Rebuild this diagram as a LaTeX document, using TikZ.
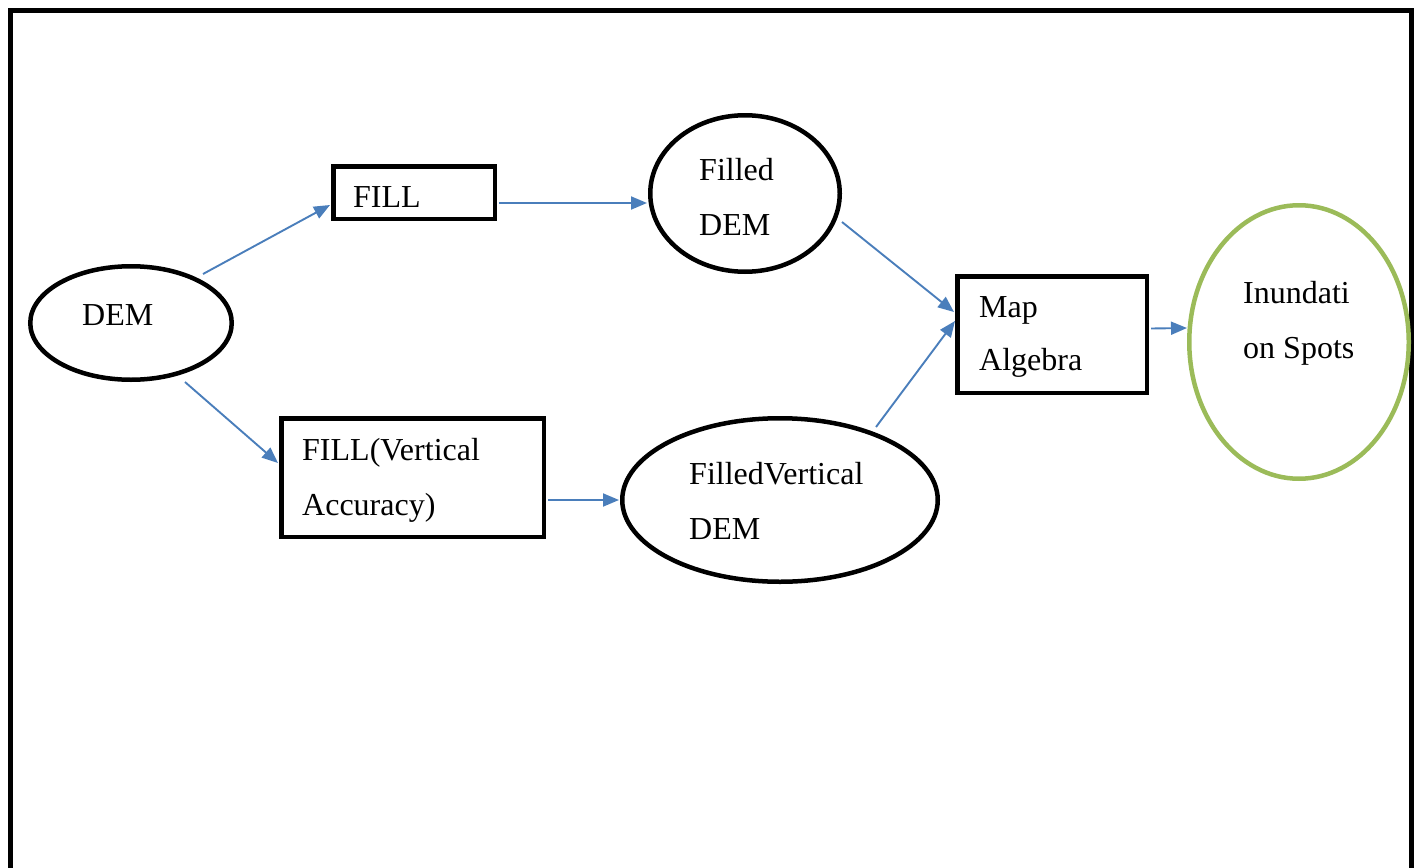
\documentclass[tikz,border=0pt]{standalone}
\usepackage{fontspec}
\setmainfont{Liberation Serif}
\usetikzlibrary{shapes.geometric,arrows.meta,calc}
\definecolor{arrblue}{HTML}{4A7EBB}
\definecolor{ovgreen}{HTML}{9BBB59}
\begin{document}
\begin{tikzpicture}[x=1pt,y=-1pt,
  ov/.style={ellipse,draw=black,line width=4.5pt,inner sep=0pt},
  bx/.style={rectangle,draw=black,line width=4.5pt,inner sep=0pt},
  lbl/.style={anchor=base west,inner sep=0pt,font=\fontsize{32}{38}\selectfont},
  arr/.style={draw=arrblue,line width=1.9pt,-{Triangle[length=16pt,width=13pt]}}]
\useasboundingbox (0,0) rectangle (1418,867);
\draw[line width=5pt] (10,880) -- (10,11) -- (1411,11) -- (1411,880);
% shapes
\node[ov,minimum width=201.5,minimum height=113.5] (dem) at (131,323) {};
\node[bx,minimum width=161.5,minimum height=52.5] (fill) at (414,192.5) {};
\node[ov,minimum width=189.5,minimum height=156.5] (fdem) at (745,193.5) {};
\node[bx,minimum width=262.5,minimum height=118.5] (fva) at (412.5,477.5) {};
\node[ov,minimum width=315.5,minimum height=163.5] (fvd) at (780,500) {};
\node[bx,minimum width=189.5,minimum height=116.5] (map) at (1052,334.5) {};
\node[ov,draw=ovgreen,minimum width=219.5,minimum height=273.5] (inund) at (1299,342) {};
% texts
\node[lbl] (tdem) at (82,325) {DEM};
\node[lbl] (tfill) at (353,207) {FILL};
\node[lbl] (tfdem1) at (699,180) {Filled};
\node[lbl] (tfdem2) at (699,235) {DEM};
\node[lbl] (tfva1) at (302,460) {FILL(Vertical};
\node[lbl] (tfva2) at (302,515) {Accuracy)};
\node[lbl] (tfvd1) at (689,484) {FilledVertical};
\node[lbl] (tfvd2) at (689,539) {DEM};
\node[lbl] (tmap1) at (979,317) {Map};
\node[lbl] (tmap2) at (979,370) {Algebra};
\node[lbl] (tin1) at (1243,303) {Inundati};
\node[lbl] (tin2) at (1243,358) {on Spots};
% connectors
\draw[arr] ($(dem.center)+(72,-49)$) -- ($(fill.west)+(-1,12.5)$);
\draw[arr] ($(dem.center)+(54,59)$) -- ($(fva.west)+(-1,-14.5)$);
\draw[arr] ($(fill.east)+(2,10.5)$) -- ($(fdem.west)+(-1,9.5)$);
\draw[arr] ($(fva.east)+(2,22.5)$) -- ($(fvd.west)+(-1,0)$);
\draw[arr] ($(fdem.center)+(97,28.5)$) -- ($(map.west)+(-1,-22.5)$);
\draw[arr] ($(fvd.center)+(96,-73)$) -- ($(map.west)+(0,-13.5)$);
\draw[arr] ($(map.east)+(2,-6)$) -- ($(inund.west)+(0,-14)$);
\end{tikzpicture}
\end{document}
